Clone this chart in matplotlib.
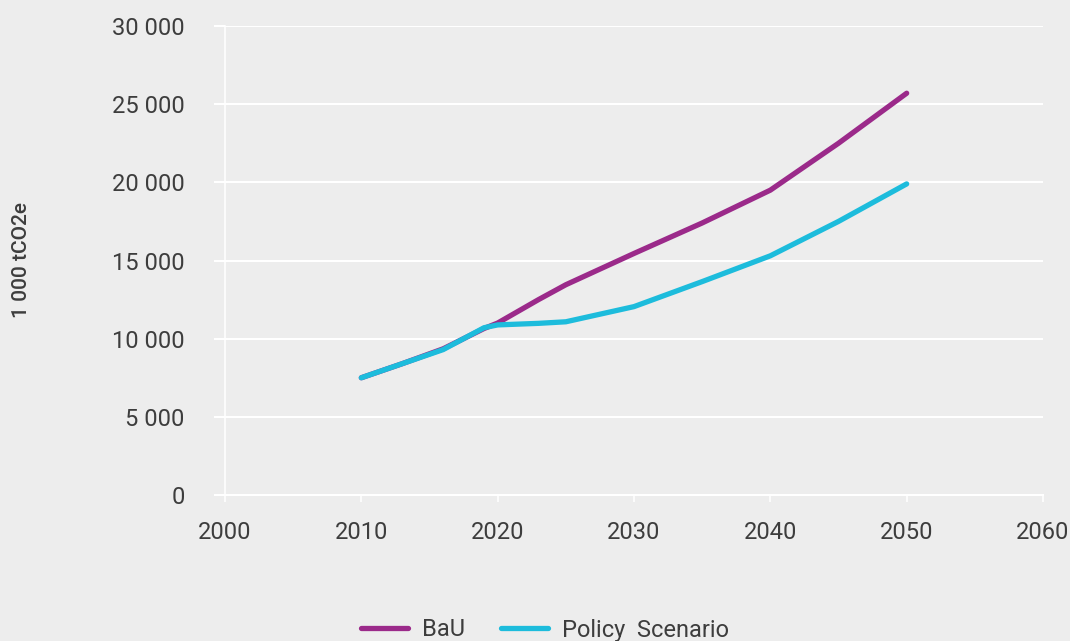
import matplotlib.pyplot as plt
from matplotlib import font_manager

# Emissions scenarios (1 000 tCO2e)
years = [2010, 2013, 2016, 2019, 2020, 2023, 2025, 2030, 2035, 2040, 2045, 2050]
bau = [7500, 8400, 9350, 10650, 11000, 12500, 13450, 15450, 17400, 19500, 22500, 25700]
policy = [7500, 8400, 9300, 10700, 10880, 10980, 11080, 12050, 13650, 15300, 17500, 19900]

bg = '#ededed'
txt = '#3d3d3d'
c_bau = '#9b2a8a'
c_pol = '#1dbcdc'

available = {f.name for f in font_manager.fontManager.ttflist}
fam = 'Liberation Sans Narrow' if 'Liberation Sans Narrow' in available else 'Roboto'
plt.rcParams['font.family'] = [fam, 'DejaVu Sans']

fig = plt.figure(figsize=(10.7, 6.41), dpi=100, facecolor=bg)
ax = fig.add_axes([225 / 1070, 1 - 495 / 641, (1043 - 225) / 1070, (495 - 26) / 641])
ax.set_facecolor(bg)

ax.plot(years, bau, color=c_bau, lw=3.8, solid_capstyle='round', solid_joinstyle='round', label='BaU', zorder=3)
ax.plot(years, policy, color=c_pol, lw=3.8, solid_capstyle='round', solid_joinstyle='round', label='Policy  Scenario', zorder=4)

ax.set_xlim(2000, 2060)
ax.set_ylim(0, 30000)
ax.set_xticks(range(2000, 2061, 10))
ax.set_yticks(range(0, 30001, 5000))
ax.set_yticklabels(['0' if v == 0 else f'{v // 1000} 000' for v in range(0, 30001, 5000)])

ax.grid(axis='y', color='white', lw=1.5)
for s in ['top', 'right']:
    ax.spines[s].set_visible(False)
ax.spines['left'].set_color('white')
ax.spines['left'].set_linewidth(1.2)
ax.spines['bottom'].set_color('white')
ax.spines['bottom'].set_linewidth(1.5)

ax.tick_params(axis='y', length=8, width=1.5, color='white', pad=21, labelsize=17, labelcolor=txt)
ax.tick_params(axis='x', length=5, width=1.2, color='white', pad=14, labelsize=17, labelcolor=txt)

fig.text(22 / 1070, 1 - 260 / 641, '1 000 tCO2e', rotation=90, ha='center', va='center',
         fontsize=15, fontweight='medium', color=txt)

fig.legend(loc='center', bbox_to_anchor=(545 / 1070, 1 - 630 / 641), ncol=2, frameon=False,
           fontsize=17, labelcolor=txt, handlelength=2.0, columnspacing=1.5, handletextpad=0.6)

fig.savefig('out.png', dpi=100, facecolor=bg)
